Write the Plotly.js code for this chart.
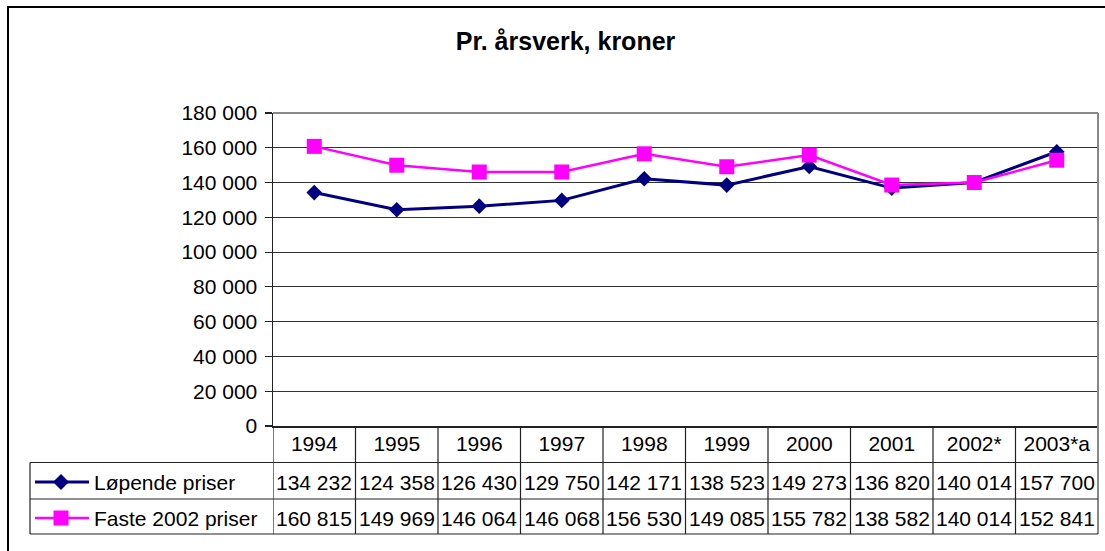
<!DOCTYPE html>
<html>
<head>
<meta charset="utf-8">
<script src="https://cdn.plot.ly/plotly-3.0.1.min.js"></script>
<style>html,body{margin:0;padding:0;background:#fff;}#chart{width:1105px;height:551px;}</style>
</head>
<body>
<div id="chart"></div>
<script>
const years = ["1994","1995","1996","1997","1998","1999","2000","2001","2002*","2003*a"];
const lopende = [134232,124358,126430,129750,142171,138523,149273,136820,140014,157700];
const faste = [160815,149969,146064,146068,156530,149085,155782,138582,140014,152841];
const seriesNames = ["Løpende priser","Faste 2002 priser"];
const titleText = "Pr. årsverk, kroner";

const W=1105, H=551, L=273, R=1098, T=113, B=426;
function px(X){return (X-L)/(R-L);}
function py(Y){return (B-Y)/(B-T);}
function fmt(v){return String(v).replace(/\B(?=(\d{3})+(?!\d))/g,' ');}

const FONT = "Arial, 'Liberation Sans', sans-serif";
const FS = 21;
const NAVY = "#000080", MAG = "#FF00FF";
const rowY = [481, 517];
const lines = "#222";

const traces = [
  {type:"scatter", mode:"lines+markers", x:years, y:lopende, name:seriesNames[0],
   line:{color:NAVY,width:3}, marker:{symbol:"diamond",size:12,color:NAVY}},
  {type:"scatter", mode:"lines+markers", x:years, y:faste, name:seriesNames[1],
   line:{color:MAG,width:2.5}, marker:{symbol:"square",size:15,color:MAG}}
];

const shapes = [];
// outer chart border
shapes.push({type:"rect",xref:"paper",yref:"paper",x0:px(8),x1:px(1112),y0:py(7),y1:py(565),line:{color:"#000",width:2}});
// plot area top & right border
shapes.push({type:"line",xref:"paper",yref:"paper",x0:0,x1:1,y0:1,y1:1,line:{color:"#888",width:2}});
shapes.push({type:"line",xref:"paper",yref:"paper",x0:1,x1:1,y0:1,y1:py(534),line:{color:"#888",width:2}});
// table horizontal lines
[462.5,499,534].forEach(Y=>shapes.push({type:"line",xref:"paper",yref:"paper",x0:px(30),x1:px(1098),y0:py(Y),y1:py(Y),line:{color:lines,width:1.2}}));
// legend column left edge
shapes.push({type:"line",xref:"paper",yref:"paper",x0:px(30),x1:px(30),y0:py(462.5),y1:py(534),line:{color:lines,width:1.2}});
// column separators
for(let i=0;i<years.length;i++){
  shapes.push({type:"line",xref:"x",yref:"paper",x0:i-0.5,x1:i-0.5,y0:0,y1:py(534),line:{color:lines,width:1.2}});
}
// legend glyphs
const glyphCols=[NAVY,MAG], glyphW=[3,2.5];
rowY.forEach((Y,k)=>{
  shapes.push({type:"line",xref:"paper",yref:"paper",x0:px(35),x1:px(89),y0:py(Y+1),y1:py(Y+1),line:{color:glyphCols[k],width:glyphW[k]}});
});
// diamond glyph
(function(){
  const cx=61, cy=rowY[0]+1, r=8;
  const p=`M ${px(cx)},${py(cy-r)} L ${px(cx+r)},${py(cy)} L ${px(cx)},${py(cy+r)} L ${px(cx-r)},${py(cy)} Z`;
  shapes.push({type:"path",xref:"paper",yref:"paper",path:p,fillcolor:NAVY,line:{width:0}});
})();
// square glyph
(function(){
  const cx=61, cy=rowY[1]+1, r=7.5;
  shapes.push({type:"rect",xref:"paper",yref:"paper",x0:px(cx-r),x1:px(cx+r),y0:py(cy-r),y1:py(cy+r),fillcolor:MAG,line:{width:0}});
})();

const annotations = [];
const data=[lopende,faste];
data.forEach((arr,k)=>{
  arr.forEach((v,i)=>{
    annotations.push({xref:"x",yref:"paper",x:i,y:py(rowY[k]+1.5),text:fmt(v),showarrow:false,
      xanchor:"center",yanchor:"middle",font:{family:FONT,size:FS,color:"#000"}});
  });
  annotations.push({xref:"paper",yref:"paper",x:px(92),y:py(rowY[k]+1.5),text:seriesNames[k],showarrow:false,
    xanchor:"left",yanchor:"middle",font:{family:FONT,size:FS,color:"#000"}});
});

const layout = {
  width:W, height:H,
  margin:{l:L,r:W-R,t:T,b:H-B,pad:0},
  paper_bgcolor:"#fff", plot_bgcolor:"#fff",
  separators:", ",
  showlegend:false,
  title:{text:"<b>"+titleText+"</b>",font:{family:FONT,size:25,color:"#000"},
    xref:"container",yref:"container",x:565.5/W,xanchor:"center",y:1-41/H,yanchor:"middle"},
  xaxis:{type:"category",range:[-0.5,years.length-0.5],showgrid:false,zeroline:false,
    showline:true,linecolor:lines,linewidth:1.5,ticks:"",tickvals:years,ticktext:years,
    tickfont:{family:FONT,size:FS,color:"#000"},ticklabelstandoff:-2,fixedrange:true},
  yaxis:{range:[0,180000],dtick:20000,tick0:0,tickformat:",d",showgrid:true,gridcolor:"#333",gridwidth:1,
    zeroline:false,showline:true,linecolor:lines,linewidth:1.5,ticks:"outside",ticklen:7,tickwidth:1.2,tickcolor:lines,
    tickfont:{family:FONT,size:FS,color:"#000"},ticklabelstandoff:3,fixedrange:true},
  shapes:shapes,
  annotations:annotations
};

Plotly.newPlot("chart",traces,layout,{displayModeBar:false,staticPlot:true});
</script>
</body>
</html>
